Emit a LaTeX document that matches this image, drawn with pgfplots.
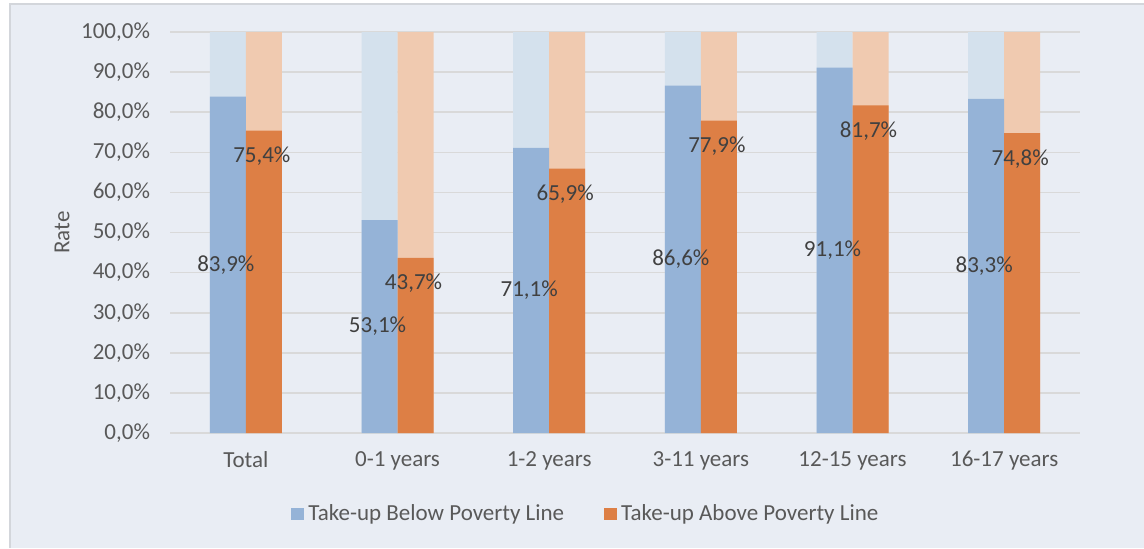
\documentclass[border=0pt]{standalone}
\usepackage{fontspec}
\setmainfont{Carlito}
\usepackage{pgfplots}
\usepackage{pgfplotstable}
\pgfplotsset{compat=1.18}

\definecolor{panel}{HTML}{E9EDF4}
\definecolor{frameline}{HTML}{D3D6DB}
\definecolor{gridc}{HTML}{D9D9D9}
\definecolor{below}{HTML}{95B3D7}
\definecolor{belowlt}{HTML}{D4E1ED}
\definecolor{above}{HTML}{DD7F45}
\definecolor{abovelt}{HTML}{F0CAB0}
\definecolor{txt}{HTML}{595959}
\definecolor{lbl}{HTML}{404040}

% take-up rates (%) by age group: 0 Total, 1 0-1, 2 1-2, 3 3-11, 4 12-15, 5 16-17
\pgfplotstableread{
x below above
0 83.9 75.4
1 53.1 43.7
2 71.1 65.9
3 86.6 77.9
4 91.1 81.7
5 83.3 74.8
}\takeup

\begin{document}
\fontsize{11.5}{13.8}\selectfont
\begin{tikzpicture}
\useasboundingbox (0,0) rectangle (572pt,274pt);
\fill[white] (0,0) rectangle (572pt,274pt);
\fill[panel] (5pt,0) rectangle (572pt,272pt);
\draw[frameline, line width=0.8pt] (5pt,0) -- (5pt,272pt) -- (572pt,272pt);
\begin{axis}[
  at={(85pt,57.5pt)}, anchor=south west,
  scale only axis, width=455pt, height=200.5pt,
  xmin=-0.5, xmax=5.5, ymin=0, ymax=100,
  axis line style={draw=none},
  major tick style={draw=none},
  xtick={0,...,5},
  xticklabels={Total,0-1 years,1-2 years,3-11 years,12-15 years,16-17 years},
  ytick={0,10,...,100},
  /pgf/number format/assume math mode=true,
  yticklabel={\pgfmathprintnumber[fixed,fixed zerofill,precision=1,use comma]{\tick}\%},
  yticklabel style={xshift=-6pt},
  xticklabel style={yshift=-5pt},
  ticklabel style={text=txt, font=\fontsize{11.5}{13.8}\selectfont},
  ymajorgrids,
  grid style={gridc, line width=0.8pt},
  ylabel={Rate},
  ylabel style={at={(axis description cs:-0.1187,0.5)}, anchor=center, text=txt, font=\fontsize{11.5}{13.8}\selectfont},
  legend style={at={(0.1264,-0.202)}, anchor=west, draw=none, fill=none,
    legend columns=2, text=txt, font=\fontsize{11.5}{13.8}\selectfont,
    /tikz/every even column/.append style={column sep=18pt}},
  legend image code/.code={\fill (0pt,-3pt) rectangle (6.5pt,3pt);},
]
% full-height stacks (remaining share up to 100%)
\addplot[ybar, bar width=18pt, bar shift=-9pt, fill=belowlt, draw=none, forget plot]
  table[x=x, y expr=100]{\takeup};
\addplot[ybar, bar width=18pt, bar shift=9pt, fill=abovelt, draw=none, forget plot]
  table[x=x, y expr=100]{\takeup};
% take-up shares
\addplot[ybar, bar width=18pt, bar shift=-9pt, fill=below, draw=none]
  table[x=x, y=below]{\takeup};
\addlegendentry{Take-up Below Poverty Line}
\addplot[ybar, bar width=18pt, bar shift=9pt, fill=above, draw=none]
  table[x=x, y=above]{\takeup};
\addlegendentry{Take-up Above Poverty Line}
% value labels
\addplot[draw=none, mark=none, forget plot, point meta=explicit,
  nodes near coords={\pgfmathprintnumber[fixed,fixed zerofill,precision=1,use comma]{\pgfplotspointmeta}\%},
  every node near coord/.append style={anchor=center, xshift=-10pt, text=lbl, font=\fontsize{11.5}{13.8}\selectfont}]
  table[x=x, y expr=\thisrow{below}/2, meta=below]{\takeup};
\addplot[draw=none, mark=none, forget plot, point meta=explicit,
  nodes near coords={\pgfmathprintnumber[fixed,fixed zerofill,precision=1,use comma]{\pgfplotspointmeta}\%},
  every node near coord/.append style={anchor=center, xshift=8pt, text=lbl, font=\fontsize{11.5}{13.8}\selectfont}]
  table[x=x, y expr=\thisrow{above}-6.4, meta=above]{\takeup};
\end{axis}
\end{tikzpicture}
\end{document}
